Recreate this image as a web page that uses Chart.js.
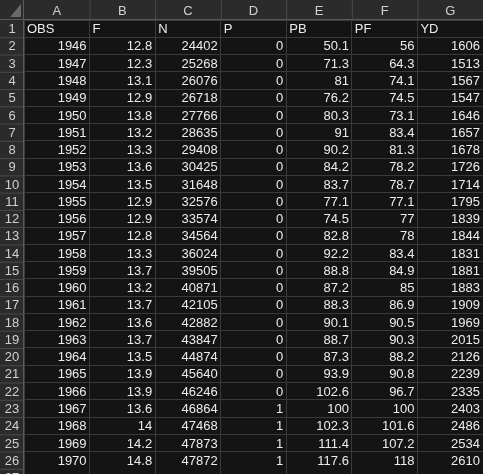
<!DOCTYPE html>
<html>
<head>
<meta charset="utf-8">
<script src="https://cdn.jsdelivr.net/npm/chart.js@4"></script>
<style>
  html, body { margin: 0; padding: 0; background: #141414; }
  #wrap { width: 483px; height: 474px; }
</style>
</head>
<body>
<div id="wrap"><canvas id="sheet"></canvas></div>
<script>
// spreadsheet contents
const columnLetters = ['A', 'B', 'C', 'D', 'E', 'F', 'G'];
const headers = ['OBS', 'F', 'N', 'P', 'PB', 'PF', 'YD'];
const obs = [1946, 1947, 1948, 1949, 1950, 1951, 1952, 1953, 1954, 1955, 1956, 1957, 1958, 1959, 1960, 1961, 1962, 1963, 1964, 1965, 1966, 1967, 1968, 1969, 1970];
const fVals = [12.8, 12.3, 13.1, 12.9, 13.8, 13.2, 13.3, 13.6, 13.5, 12.9, 12.9, 12.8, 13.3, 13.7, 13.2, 13.7, 13.6, 13.7, 13.5, 13.9, 13.9, 13.6, 14, 14.2, 14.8];
const nVals = [24402, 25268, 26076, 26718, 27766, 28635, 29408, 30425, 31648, 32576, 33574, 34564, 36024, 39505, 40871, 42105, 42882, 43847, 44874, 45640, 46246, 46864, 47468, 47873, 47872];
const pVals = [0, 0, 0, 0, 0, 0, 0, 0, 0, 0, 0, 0, 0, 0, 0, 0, 0, 0, 0, 0, 0, 1, 1, 1, 1];
const pbVals = [50.1, 71.3, 81, 76.2, 80.3, 91, 90.2, 84.2, 83.7, 77.1, 74.5, 82.8, 92.2, 88.8, 87.2, 88.3, 90.1, 88.7, 87.3, 93.9, 102.6, 100, 102.3, 111.4, 117.6];
const pfVals = [56, 64.3, 74.1, 74.5, 73.1, 83.4, 81.3, 78.2, 78.7, 77.1, 77, 78, 83.4, 84.9, 85, 86.9, 90.5, 90.3, 88.2, 90.8, 96.7, 100, 101.6, 107.2, 118];
const ydVals = [1606, 1513, 1567, 1547, 1646, 1657, 1678, 1726, 1714, 1795, 1839, 1844, 1831, 1881, 1883, 1909, 1969, 2015, 2126, 2239, 2335, 2403, 2486, 2534, 2610];

const columns = [obs, fVals, nVals, pVals, pbVals, pfVals, ydVals];

// one point per cell: x = column index, y = row number
const cells = [];
headers.forEach((h, c) => cells.push({ x: c, y: 1, text: h, left: true }));
columns.forEach((col, c) => col.forEach((v, r) => cells.push({ x: c, y: r + 2, text: String(v), left: false })));

const FONT = '13px "Liberation Sans", Arial, sans-serif';

const sheetPlugin = {
  id: 'sheet',
  beforeDraw(chart) {
    const { ctx, scales: { x, y } } = chart;
    ctx.save();
    ctx.fillStyle = '#141414';
    ctx.fillRect(0, 0, chart.width, chart.height);
    // header strips
    ctx.fillStyle = '#2b2b2b';
    ctx.fillRect(0, 0, chart.width, y.top);
    ctx.fillRect(0, 0, x.left, chart.height);
    ctx.restore();
  },
  afterDraw(chart) {
    const { ctx, scales: { x, y } } = chart;
    ctx.save();
    ctx.font = FONT;
    ctx.textBaseline = 'middle';
    // column letters
    ctx.fillStyle = '#d0d0d0';
    ctx.textAlign = 'center';
    columnLetters.forEach((l, c) => {
      const x0 = x.getPixelForValue(c), x1 = x.getPixelForValue(c + 1);
      ctx.fillText(l, (x0 + x1) / 2, y.top / 2 + 1);
      ctx.strokeStyle = '#4a4a4a';
      ctx.beginPath(); ctx.moveTo(x1 + 0.5, 0); ctx.lineTo(x1 + 0.5, y.top); ctx.stroke();
    });
    // row numbers
    for (let r = 1; r <= 27; r++) {
      const y0 = y.getPixelForValue(r - 1), y1 = y.getPixelForValue(r);
      if (y0 > chart.height) break;
      ctx.fillText(String(r), x.left / 2, (y0 + y1) / 2 + 1);
      ctx.strokeStyle = '#4a4a4a';
      ctx.beginPath(); ctx.moveTo(0, y1 + 0.5); ctx.lineTo(x.left, y1 + 0.5); ctx.stroke();
    }
    // corner triangle
    ctx.fillStyle = '#6a6a6a';
    ctx.beginPath();
    ctx.moveTo(x.left - 3, 4); ctx.lineTo(x.left - 3, y.top - 3); ctx.lineTo(x.left - 14, y.top - 3);
    ctx.closePath(); ctx.fill();
    // cell text
    ctx.fillStyle = '#ececec';
    cells.forEach(cell => {
      const yc = (y.getPixelForValue(cell.y - 1) + y.getPixelForValue(cell.y)) / 2 + 1;
      if (cell.left) {
        ctx.textAlign = 'left';
        ctx.fillText(cell.text, x.getPixelForValue(cell.x) + 3, yc);
      } else {
        ctx.textAlign = 'right';
        ctx.fillText(cell.text, x.getPixelForValue(cell.x + 1) - 3, yc);
      }
    });
    // header bottom / left edges
    ctx.strokeStyle = '#5a5a5a';
    ctx.beginPath();
    ctx.moveTo(0, y.top - 0.5); ctx.lineTo(chart.width, y.top - 0.5);
    ctx.moveTo(x.left - 0.5, 0); ctx.lineTo(x.left - 0.5, chart.height);
    ctx.stroke();
    ctx.restore();
  }
};

new Chart(document.getElementById('sheet'), {
  type: 'scatter',
  data: {
    datasets: [{ data: cells, pointRadius: 0, pointHoverRadius: 0 }]
  },
  options: {
    responsive: true,
    maintainAspectRatio: false,
    animation: false,
    events: [],
    layout: { padding: { left: 24, top: 20, right: 0, bottom: 0 } },
    plugins: { legend: { display: false }, tooltip: { enabled: false } },
    scales: {
      x: {
        type: 'linear', min: 0, max: 7,
        ticks: { display: false, stepSize: 1 },
        grid: { color: '#3a3a3a', drawTicks: false },
        border: { display: false }
      },
      y: {
        type: 'linear', min: 0, max: 26.3, reverse: true,
        ticks: { display: false, stepSize: 1 },
        grid: { color: '#3a3a3a', drawTicks: false },
        border: { display: false }
      }
    }
  },
  plugins: [sheetPlugin]
});
</script>
</body>
</html>
